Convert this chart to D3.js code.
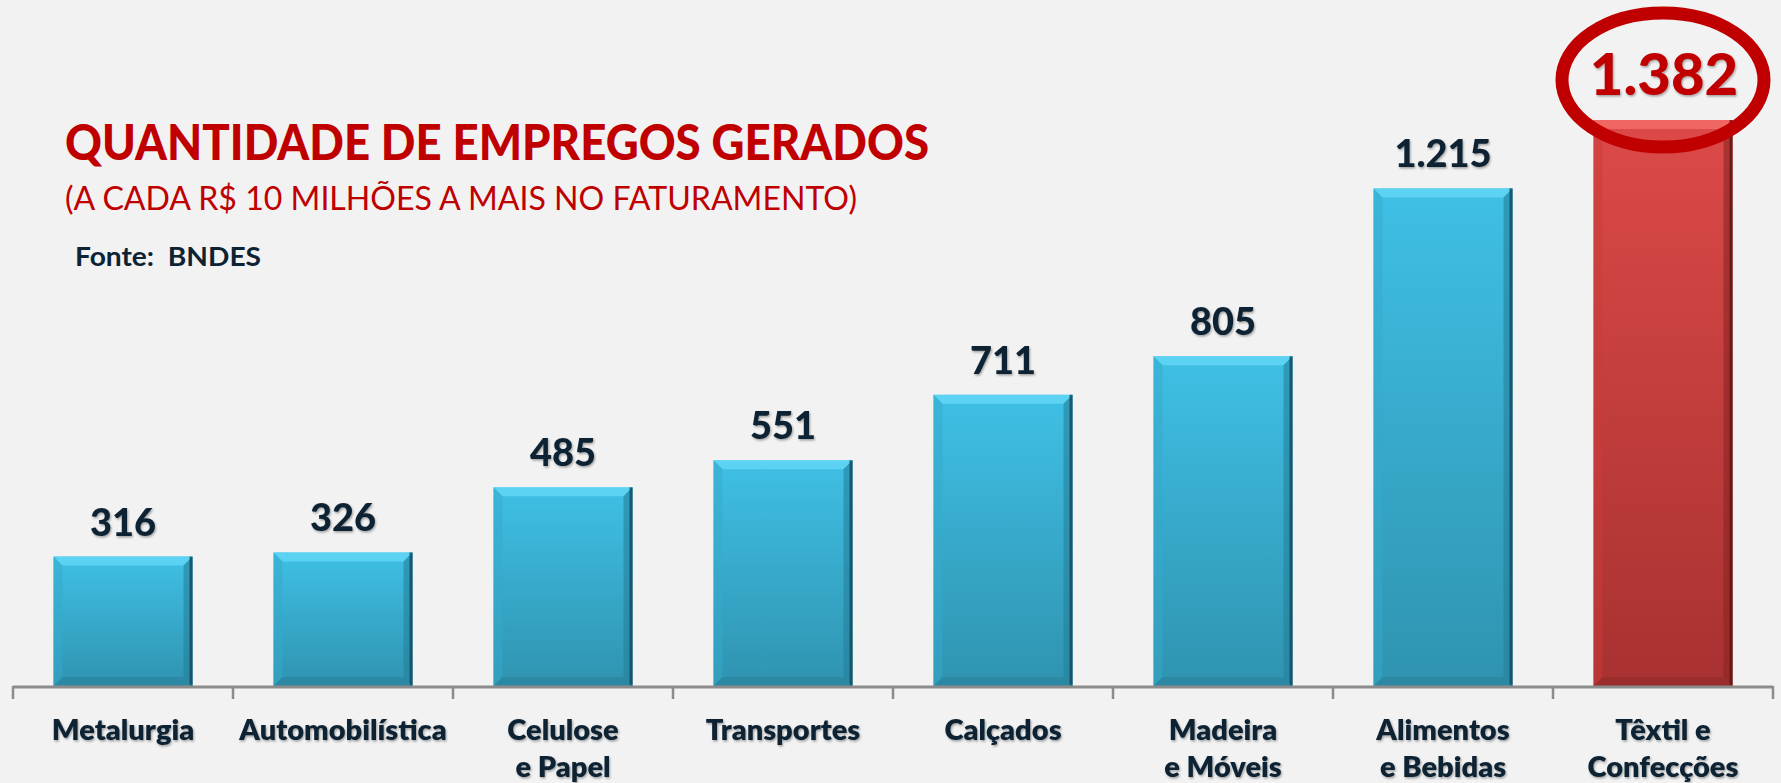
<!DOCTYPE html>
<html>
<head>
<meta charset="utf-8">
<script src="https://cdn.jsdelivr.net/npm/d3@7"></script>
<style>
  html, body { margin: 0; padding: 0; background: #f2f2f2; }
  svg { display: block; font-family: Lato, "Open Sans", sans-serif; }
</style>
</head>
<body>
<div id="chart"></div>
<script>
// chart data
const categories = ["Metalurgia", "Automobilística", "Celulose\ne Papel", "Transportes",
  "Calçados", "Madeira\ne Móveis", "Alimentos\ne Bebidas", "Têxtil e\nConfecções"];
const values = [316, 326, 485, 551, 711, 805, 1215, 1382];
const highlight = "Têxtil e\nConfecções";

const titleText = "QUANTIDADE DE EMPREGOS GERADOS";
const subtitleText = "(A CADA R$ 10 MILHÕES A MAIS NO FATURAMENTO)";
const sourceText = "Fonte:  BNDES";

const width = 1781, height = 783;
const axisY = 686;

const ptBR = d3.formatLocale({ decimal: ",", thousands: ".", grouping: [3], currency: ["R$", ""] });
const fmt = ptBR.format(",d");

const data = categories.map((c, i) => ({ cat: c, value: values[i] }));

const svg = d3.select('#chart').append('svg')
  .attr('width', width)
  .attr('height', height);

svg.append('rect').attr('width', width).attr('height', height).attr('fill', '#f2f2f2');

const defs = svg.append('defs');

// bar gradients
function grad(id, top, bottom) {
  const g = defs.append('linearGradient').attr('id', id)
    .attr('x1', 0).attr('y1', 0).attr('x2', 0).attr('y2', 1);
  g.append('stop').attr('offset', '0%').attr('stop-color', top);
  g.append('stop').attr('offset', '100%').attr('stop-color', bottom);
}
grad('blueGrad', '#3fc0e5', '#2f93b0');
grad('redGrad', '#dc4a48', '#a83131');

const shadow = defs.append('filter').attr('id', 'txtShadow')
  .attr('x', '-10%').attr('y', '-10%').attr('width', '120%').attr('height', '130%');
shadow.append('feDropShadow').attr('dx', 1).attr('dy', 1.5).attr('stdDeviation', 1.2)
  .attr('flood-color', '#000').attr('flood-opacity', 0.35);

const x = d3.scaleBand()
  .domain(categories)
  .range([13, 1773])
  .paddingInner(0.368)
  .paddingOuter(0.184);

const y = d3.scaleLinear()
  .domain([0, 1382])
  .range([axisY, 120]);

// bars with bevel
const bevel = 9;
const bars = svg.append('g').selectAll('g.bar')
  .data(data)
  .join('g')
  .attr('class', 'bar');

bars.each(function(d) {
  const g = d3.select(this);
  const x0 = x(d.cat), x1 = x0 + x.bandwidth();
  const y0 = y(d.value), y1 = y(0);
  const red = d.cat === highlight;
  g.append('rect')
    .attr('x', x0).attr('y', y0)
    .attr('width', x1 - x0).attr('height', y1 - y0)
    .attr('fill', red ? 'url(#redGrad)' : 'url(#blueGrad)');
  // top bevel
  g.append('polygon')
    .attr('points', [[x0, y0], [x1, y0], [x1 - bevel, y0 + bevel], [x0 + bevel, y0 + bevel]].join(' '))
    .attr('fill', red ? '#f26b68' : '#62d6f4')
    .attr('opacity', 0.85);
  // left bevel
  g.append('polygon')
    .attr('points', [[x0, y0], [x0 + bevel, y0 + bevel], [x0 + bevel, y1 - bevel], [x0, y1]].join(' '))
    .attr('fill', red ? '#c93c3a' : '#36a9cc')
    .attr('opacity', 0.5);
  // right bevel (dark)
  g.append('polygon')
    .attr('points', [[x1, y0], [x1, y1], [x1 - bevel, y1 - bevel], [x1 - bevel, y0 + bevel]].join(' '))
    .attr('fill', red ? '#8a2424' : '#25809c')
    .attr('opacity', 0.6);
  g.append('rect')
    .attr('x', x1 - 3).attr('y', y0)
    .attr('width', 3).attr('height', y1 - y0)
    .attr('fill', red ? '#5a1515' : '#14485a')
    .attr('opacity', 0.8);
  // bottom bevel
  g.append('polygon')
    .attr('points', [[x0, y1], [x0 + bevel, y1 - bevel], [x1 - bevel, y1 - bevel], [x1, y1]].join(' '))
    .attr('fill', red ? '#8f2a2a' : '#2a8099')
    .attr('opacity', 0.55);
});

// axis line and boundary ticks
svg.append('line')
  .attr('x1', x.range()[0]).attr('x2', x.range()[1])
  .attr('y1', axisY + 1).attr('y2', axisY + 1)
  .attr('stroke', '#8c8c8c').attr('stroke-width', 3);

const boundaries = d3.range(categories.length + 1).map(i => x.range()[0] + i * x.step());
svg.append('g').selectAll('line')
  .data(boundaries)
  .join('line')
  .attr('x1', d => d).attr('x2', d => d)
  .attr('y1', axisY).attr('y2', axisY + 13)
  .attr('stroke', '#8c8c8c').attr('stroke-width', 2.5);

// category labels
const catLabels = svg.append('g').selectAll('text')
  .data(categories)
  .join('text')
  .attr('x', d => x(d) + x.bandwidth() / 2)
  .attr('y', 740)
  .attr('text-anchor', 'middle')
  .attr('font-size', 29)
  .attr('font-weight', 800)
  .attr('fill', '#0d2233')
  .attr('filter', 'url(#txtShadow)');
catLabels.selectAll('tspan')
  .data(d => d.split('\n').map(t => ({ t, cat: d })))
  .join('tspan')
  .attr('x', d => x(d.cat) + x.bandwidth() / 2)
  .attr('dy', (d, i) => i === 0 ? 0 : 37)
  .text(d => d.t);

// value labels
svg.append('g').selectAll('text')
  .data(data)
  .join('text')
  .attr('x', d => x(d.cat) + x.bandwidth() / 2 + (d.cat === highlight ? 1 : 0))
  .attr('y', d => y(d.value) - (d.cat === highlight ? 25 : 21))
  .attr('text-anchor', 'middle')
  .attr('font-size', d => d.cat === highlight ? 58 : 38)
  .attr('font-weight', 900)
  .attr('fill', d => d.cat === highlight ? '#c00000' : '#0d2233')
  .attr('filter', 'url(#txtShadow)')
  .text(d => fmt(d.value));

// highlight ellipse around the largest value
const hi = data.find(d => d.cat === highlight);
svg.append('ellipse')
  .attr('cx', x(hi.cat) + x.bandwidth() / 2)
  .attr('cy', y(hi.value) - 40)
  .attr('rx', 101)
  .attr('ry', 67)
  .attr('fill', 'none')
  .attr('stroke', '#c00000')
  .attr('stroke-width', 13);

// titles
svg.append('text')
  .attr('x', 65).attr('y', 160)
  .attr('font-size', 50)
  .attr('font-weight', 900)
  .attr('fill', '#c00000')
  .attr('textLength', 864)
  .attr('lengthAdjust', 'spacingAndGlyphs')
  .text(titleText);

svg.append('text')
  .attr('x', 65).attr('y', 210)
  .attr('font-size', 32)
  .attr('fill', '#c00000')
  .attr('textLength', 792)
  .attr('lengthAdjust', 'spacingAndGlyphs')
  .text(subtitleText);

svg.append('text')
  .attr('x', 75).attr('y', 266)
  .attr('font-size', 27)
  .attr('font-weight', 700)
  .attr('fill', '#0d2233')
  .attr('xml:space', 'preserve')
  .attr('textLength', 186)
  .attr('lengthAdjust', 'spacingAndGlyphs')
  .text(sourceText);
</script>
</body>
</html>
